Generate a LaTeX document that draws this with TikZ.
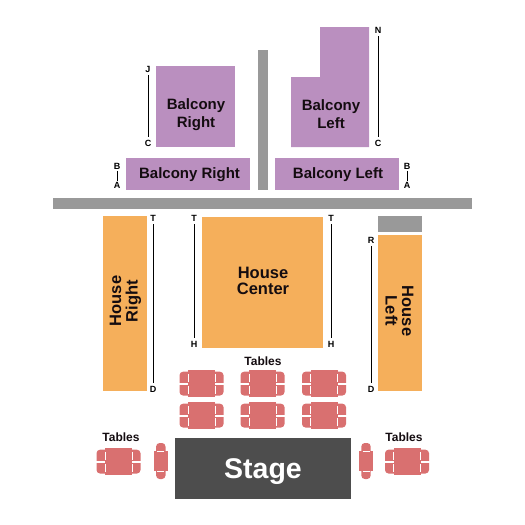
\documentclass[tikz,border=0pt]{standalone}
\usepackage{fontspec}
\setmainfont{Liberation Sans}
\definecolor{balc}{HTML}{BA8FBF}
\definecolor{hous}{HTML}{F5AF5B}
\definecolor{grayb}{HTML}{999999}
\definecolor{stag}{HTML}{4D4D4D}
\definecolor{tabl}{HTML}{D97070}
\definecolor{ink}{HTML}{140C10}
\tikzset{
  lab/.style={font=\bfseries\fontsize{15}{18}\selectfont,text=ink,align=center,inner sep=0pt},
  hlab/.style={font=\bfseries\fontsize{16.5}{16.5}\selectfont,text=ink,align=center,inner sep=0pt},
  row/.style={font=\bfseries\fontsize{9}{9}\selectfont,text=black,inner sep=3pt,minimum width=8pt},
  tlab/.style={font=\bfseries\fontsize{12}{12}\selectfont,text=ink,inner sep=0pt},
  rowline/.style={draw=black,line width=0.9pt},
  chair/.style={fill=tabl,rounded corners=3.5pt},
  desk/.style={fill=tabl},
  sliver/.style={draw=white,line width=0.5pt},
  gap/.style={draw=white,line width=1.8pt}
}
\newcommand{\seatgroup}[2]{%
  \begin{scope}[shift={(#1,#2)}]
    \fill[chair] (-22,-11.8) rectangle (22,12);
    \draw[gap] (-22.5,0.3) -- (22.5,0.3);
    \fill[desk] (-13.5,-13.5) rectangle (13.5,13.5);
    \draw[sliver] (-13.7,-9.5) -- (-13.7,-1.5) (13.7,-9.5) -- (13.7,-1.5)
                  (-13.7,2.5) -- (-13.7,10) (13.7,2.5) -- (13.7,10);
  \end{scope}}
\newcommand{\sideseat}[2]{%
  \begin{scope}[shift={(#1,#2)}]
    \fill[chair] (-4.7,-18) rectangle (4.7,18);
    \fill[desk] (-6.9,-10) rectangle (6.9,10);
    \draw[sliver] (-3.5,-10.2) -- (3.5,-10.2) (-3.5,10.2) -- (3.5,10.2);
  \end{scope}}
\begin{document}
\begin{tikzpicture}[x=1pt,y=-1pt]
\useasboundingbox (0,0) rectangle (525,525);
\fill[balc] (156,66) rectangle (235,147);
\fill[balc] (320,27) -- (369,27) -- (369,147) -- (291,147) -- (291,77) -- (320,77) -- cycle;
\fill[balc] (126,158) rectangle (250,190);
\fill[balc] (275,158) rectangle (399,190);
\fill[grayb] (258,50) rectangle (268,190);
\fill[grayb] (53,198) rectangle (472,209);
\fill[hous] (103,216) rectangle (147,391);
\fill[hous] (202,217) rectangle (323,348);
\fill[hous] (378,235) rectangle (422,391);
\fill[grayb] (378,216) rectangle (422,232);
\fill[stag] (175,438) rectangle (351,499);
\foreach \x in {201.5,262.5,324}{\foreach \y in {383.5,415.5}{\seatgroup{\x}{\y}}}
\seatgroup{118.5}{461.5}
\seatgroup{407}{461.5}
\sideseat{160.8}{461}
\sideseat{366}{461}
\node[lab] (br) at (196,114.5) {Balcony\\Right};
\node[lab] (bl) at (331,114.5) {Balcony\\Left};
\node[lab,anchor=base] (lr) at (189.5,178) {Balcony Right};
\node[lab,anchor=base] (ll) at (338,178) {Balcony Left};
\node[hlab,rotate=90] (hr) at (125.5,301) {House\\Right};
\node[hlab] (hc) at (263,281) {House\\Center};
\node[hlab,rotate=-90] (hl) at (399.5,311) {House\\Left};
\node[font=\bfseries\fontsize{28.5}{29}\selectfont,text=white,inner sep=0pt,anchor=base] (st) at (263,478) {Stage};
\node[tlab] (t1) at (263,361) {Tables};
\node[tlab] (t2) at (121,437) {Tables};
\node[tlab] (t3) at (404,437) {Tables};
\node[row] (J) at (148,69) {J};
\node[row] (C1) at (148,143.5) {C};
\draw[rowline] (J) -- (C1);
\node[row] (N) at (378,30) {N};
\node[row] (C2) at (378,143.5) {C};
\draw[rowline] (N) -- (C2);
\node[row,inner sep=1pt] (B1) at (117,166.5) {B};
\node[row,inner sep=1pt] (A1) at (117,185) {A};
\draw[rowline] (B1) -- (A1);
\node[row,inner sep=1pt] (B2) at (407,166.5) {B};
\node[row,inner sep=1pt] (A2) at (407,185) {A};
\draw[rowline] (B2) -- (A2);
\node[row] (T1) at (153,218) {T};
\node[row] (D1) at (153,389.5) {D};
\draw[rowline] (T1) -- (D1);
\node[row] (T2) at (194,218) {T};
\node[row] (H1) at (194,344) {H};
\draw[rowline] (T2) -- (H1);
\node[row] (T3) at (331,218) {T};
\node[row] (H2) at (331,344) {H};
\draw[rowline] (T3) -- (H2);
\node[row] (R) at (371,240) {R};
\node[row] (D2) at (371,389.5) {D};
\draw[rowline] (R) -- (D2);
\end{tikzpicture}
\end{document}
